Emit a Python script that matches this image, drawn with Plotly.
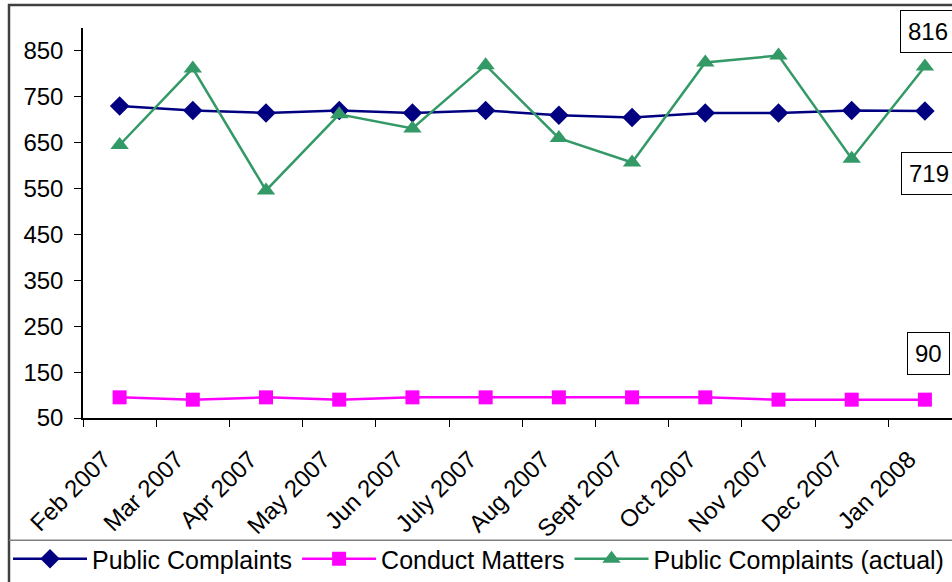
import plotly.graph_objects as go

months = ["Feb 2007", "Mar 2007", "Apr 2007", "May 2007", "Jun 2007", "July 2007",
          "Aug 2007", "Sept 2007", "Oct 2007", "Nov 2007", "Dec 2007", "Jan 2008"]
public_complaints = [730, 720, 715, 720, 715, 720, 710, 705, 715, 715, 720, 719]
conduct_matters = [95, 90, 95, 90, 95, 95, 95, 95, 95, 90, 90, 90]
public_actual = [645, 812, 546, 712, 681, 819, 660, 607, 825, 840, 615, 816]

FONT = "Liberation Sans, Arial, sans-serif"
W, H = 952, 582
ML, MT, MB = 83, 28, 162
plot_w = W - ML
plot_h = H - MT - MB


def px_x(x):
    return (x - ML) / plot_w


def px_y(y):
    return (H - MB - y) / plot_h


fig = go.Figure()
fig.add_trace(go.Scatter(
    x=months, y=public_complaints, mode="lines+markers", name="Public Complaints",
    line=dict(color="#000080", width=2.5),
    marker=dict(symbol="diamond", size=15, color="#000080"),
))
fig.add_trace(go.Scatter(
    x=months, y=conduct_matters, mode="lines+markers", name="Conduct Matters",
    line=dict(color="#FF00FF", width=2.5),
    marker=dict(symbol="square", size=14, color="#FF00FF"),
))
fig.add_trace(go.Scatter(
    x=months, y=public_actual, mode="lines+markers", name="Public Complaints (actual)",
    line=dict(color="#339966", width=2.5),
    marker=dict(symbol="triangle-up", size=16, color="#339966"),
))

# value labels on the last point
labels = [(public_actual[-1], 35, 3), (public_complaints[-1], -62, 4), (conduct_matters[-1], 46, 4)]
for val, ys, xs in labels:
    fig.add_annotation(
        x=months[-1], y=val, text=str(val), showarrow=False,
        yshift=ys, xshift=xs,
        font=dict(family=FONT, size=24, color="#000000"),
        bgcolor="#ffffff", bordercolor="#000000", borderwidth=1, borderpad=7,
    )

# outer frame and legend separator
fig.add_shape(type="rect", xref="paper", yref="paper",
              x0=px_x(9), x1=px_x(W + 20), y0=px_y(H + 20), y1=px_y(5),
              line=dict(color="#404040", width=2.5), layer="below")
fig.add_shape(type="line", xref="paper", yref="paper",
              x0=px_x(9), x1=px_x(W + 20), y0=px_y(543), y1=px_y(543),
              line=dict(color="#808080", width=1.5))

fig.update_layout(
    width=W, height=H,
    margin=dict(l=ML, r=0, t=MT, b=MB),
    paper_bgcolor="#ffffff", plot_bgcolor="#ffffff",
    font=dict(family=FONT, size=24, color="#000000"),
    showlegend=True,
    legend=dict(orientation="h", x=px_x(8), xanchor="left", y=px_y(562), yanchor="middle",
                font=dict(family=FONT, size=25), itemwidth=74, bgcolor="rgba(0,0,0,0)",
                tracegroupgap=0),
    xaxis=dict(
        type="category", range=[-0.5, 11.37], showgrid=False,
        showline=True, linecolor="#000000", linewidth=1.5,
        ticks="outside", tickson="boundaries", ticklen=7, tickcolor="#000000",
        tickangle=-45, tickfont=dict(family=FONT, size=24),
        ticklabelstandoff=16, ticklabelshift=-16,
    ),
    yaxis=dict(
        range=[50, 900], tickvals=[50, 150, 250, 350, 450, 550, 650, 750, 850],
        showgrid=False, zeroline=False,
        showline=True, linecolor="#000000", linewidth=1.5,
        ticks="outside", ticklen=7, tickcolor="#000000", ticklabelstandoff=6,
        tickfont=dict(family=FONT, size=24),
    ),
)

fig.write_html("out.html", config={"displayModeBar": False},
               post_script="document.body.style.margin='0px';")
